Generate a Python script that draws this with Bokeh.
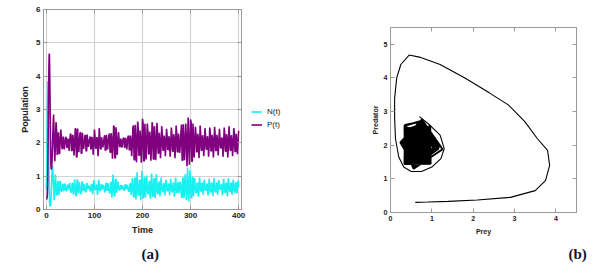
from bokeh.plotting import figure
from bokeh.layouts import row, column
from bokeh.models import Range1d, LinearAxis, Legend, LegendItem, Title, Spacer
from bokeh.embed import file_html
from bokeh.resources import INLINE

# ---- data: initial transient (time, prey N, predator P) ----
t_start = [0.0, 0.5, 1.0, 1.5, 2.0, 2.5, 2.8, 3.1, 3.4, 3.7, 4.0, 4.3, 4.6, 5.0, 5.4,
           5.8, 6.2, 6.6, 7.0, 7.5, 8.0, 8.5, 9.0, 9.5, 10.0, 10.7, 11.4, 12.1, 12.8,
           13.5, 14.2, 15.0]
n_start = [0.60, 0.90, 1.40, 2.10, 2.90, 3.50, 3.75, 3.85, 3.80, 3.55, 3.25, 2.85, 2.40,
           1.80, 1.20, 0.70, 0.45, 0.25, 0.15, 0.10, 0.10, 0.12, 0.20, 0.32, 0.50, 0.75,
           1.00, 1.22, 1.30, 1.20, 0.95, 0.70]
p_start = [0.30, 0.31, 0.33, 0.37, 0.45, 0.65, 0.95, 1.40, 1.85, 2.20, 2.70, 3.20, 3.55,
           4.00, 4.40, 4.62, 4.68, 4.40, 4.00, 3.40, 2.80, 2.20, 1.65, 1.35, 1.22, 1.22,
           1.35, 1.60, 1.90, 2.30, 2.60, 2.85]

# ---- data: sustained oscillation, sampled every 1.25 time units from t = 16.25 ----
osc_t0 = 16.25
osc_step = 1.25
n_osc = [
    0.28, 0.58, 1.05, 0.74, 0.45, 0.43, 0.85, 0.82, 0.44, 0.70, 0.86, 0.60, 0.54, 0.55, 0.76, 0.75,
    0.55, 0.70, 0.78, 0.60, 0.56, 0.57, 0.73, 0.74, 0.60, 0.72, 0.80, 0.56, 0.52, 0.51, 0.78, 0.79,
    0.44, 0.60, 0.90, 0.68, 0.42, 0.41, 0.88, 0.89, 0.50, 0.68, 0.82, 0.58, 0.47, 0.48, 0.82, 0.83,
    0.56, 0.70, 0.76, 0.62, 0.52, 0.53, 0.78, 0.77, 0.62, 0.66, 0.72, 0.64, 0.55, 0.56, 0.76, 0.75,
    0.46, 0.62, 0.88, 0.66, 0.60, 0.59, 0.73, 0.74, 0.44, 0.58, 0.90, 0.72, 0.56, 0.57, 0.74, 0.75,
    0.60, 0.68, 0.74, 0.66, 0.53, 0.52, 0.78, 0.79, 0.56, 0.72, 0.78, 0.58, 0.50, 0.49, 0.82, 0.81,
    0.36, 0.60, 1.05, 0.74, 0.40, 0.41, 0.90, 0.91, 0.50, 0.70, 0.84, 0.62, 0.58, 0.59, 0.73, 0.72,
    0.60, 0.70, 0.72, 0.62, 0.58, 0.57, 0.74, 0.75, 0.62, 0.68, 0.74, 0.60, 0.54, 0.55, 0.78, 0.77,
    0.44, 0.58, 0.94, 0.74, 0.38, 0.37, 0.94, 0.95, 0.30, 0.56, 1.12, 0.72, 0.43, 0.44, 0.88, 0.87,
    0.28, 0.60, 1.16, 0.74, 0.34, 0.35, 0.96, 0.95, 0.36, 0.66, 1.02, 0.64, 0.47, 0.46, 0.84, 0.85,
    0.32, 0.56, 1.08, 0.76, 0.40, 0.39, 0.92, 0.93, 0.34, 0.60, 1.06, 0.72, 0.48, 0.47, 0.82, 0.83,
    0.40, 0.62, 0.96, 0.70, 0.54, 0.53, 0.78, 0.77, 0.42, 0.58, 0.90, 0.72, 0.55, 0.56, 0.77, 0.76,
    0.42, 0.60, 0.92, 0.70, 0.53, 0.52, 0.79, 0.80, 0.38, 0.58, 0.96, 0.74, 0.51, 0.52, 0.81, 0.80,
    0.50, 0.64, 0.84, 0.68, 0.36, 0.37, 0.95, 0.94, 0.34, 0.62, 1.06, 0.74, 0.28, 0.56, 1.26, 0.76,
    0.24, 0.60, 1.18, 0.72, 0.35, 0.34, 0.97, 0.96, 0.40, 0.70, 0.94, 0.62, 0.50, 0.51, 0.80, 0.79,
    0.38, 0.58, 0.96, 0.74, 0.55, 0.54, 0.80, 0.79, 0.44, 0.62, 0.90, 0.70, 0.58, 0.57, 0.77, 0.76,
    0.42, 0.58, 0.92, 0.72, 0.52, 0.53, 0.80, 0.79, 0.40, 0.60, 0.94, 0.70, 0.53, 0.52, 0.79, 0.80,
    0.44, 0.62, 0.88, 0.70, 0.60, 0.61, 0.75, 0.74, 0.42, 0.58, 0.92, 0.72, 0.51, 0.52, 0.80, 0.79,
    0.40, 0.60, 0.94, 0.72, 0.54, 0.53, 0.79, 0.80, 0.44, 0.62, 0.90, 0.70, 0.52, 0.51, 0.80, 0.81,
    0.48, 0.64, 0.86, 0.66,
]
p_osc = [
    2.10, 1.45, 1.90, 2.62, 2.36, 1.64, 1.68, 2.32, 1.95, 1.66, 2.08, 2.40, 2.17, 1.83, 1.82, 2.19,
    1.95, 1.80, 2.05, 2.18, 2.14, 1.86, 1.87, 2.13, 1.90, 1.76, 2.10, 2.28, 2.22, 1.77, 1.76, 2.24,
    2.08, 1.62, 1.92, 2.42, 2.42, 1.58, 1.57, 2.43, 1.92, 1.72, 2.04, 2.30, 2.31, 1.69, 1.68, 2.30,
    1.94, 1.82, 2.00, 2.20, 2.24, 1.76, 1.75, 2.25, 1.98, 1.88, 2.04, 2.12, 2.19, 1.81, 1.82, 2.18,
    2.04, 1.64, 1.96, 2.40, 2.16, 1.84, 1.83, 2.17, 2.08, 1.60, 1.92, 2.44, 2.18, 1.82, 1.81, 2.17,
    2.00, 1.86, 1.98, 2.14, 2.23, 1.77, 1.78, 2.24, 1.92, 1.80, 2.06, 2.22, 2.28, 1.72, 1.71, 2.29,
    2.10, 1.52, 1.90, 2.52, 2.46, 1.54, 1.55, 2.47, 1.94, 1.64, 2.06, 2.32, 2.12, 1.88, 1.89, 2.13,
    1.96, 1.86, 2.04, 2.14, 2.14, 1.86, 1.87, 2.15, 1.94, 1.80, 2.06, 2.20, 2.21, 1.79, 1.78, 2.22,
    2.06, 1.60, 1.92, 2.46, 2.52, 1.50, 1.48, 2.54, 2.08, 1.42, 1.94, 2.64, 2.38, 1.62, 1.63, 2.37,
    2.10, 1.40, 1.90, 2.72, 2.58, 1.46, 1.45, 2.57, 1.98, 1.50, 2.06, 2.58, 2.33, 1.67, 1.66, 2.34,
    2.12, 1.46, 1.88, 2.62, 2.48, 1.52, 1.50, 2.50, 2.08, 1.48, 1.92, 2.60, 2.31, 1.69, 1.68, 2.30,
    2.06, 1.54, 1.94, 2.50, 2.23, 1.77, 1.78, 2.22, 2.08, 1.60, 1.92, 2.42, 2.21, 1.79, 1.80, 2.20,
    2.04, 1.58, 1.94, 2.46, 2.25, 1.75, 1.74, 2.26, 2.10, 1.54, 1.90, 2.52, 2.27, 1.73, 1.72, 2.28,
    2.02, 1.70, 1.96, 2.34, 2.55, 1.48, 1.47, 2.56, 2.10, 1.48, 1.94, 2.58, 2.14, 1.30, 1.88, 2.76,
    2.08, 1.34, 1.96, 2.70, 2.60, 1.44, 1.45, 2.58, 1.94, 1.56, 2.08, 2.48, 2.28, 1.72, 1.73, 2.27,
    2.10, 1.54, 1.90, 2.52, 2.22, 1.78, 1.77, 2.23, 2.04, 1.60, 1.94, 2.44, 2.19, 1.81, 1.80, 2.20,
    2.06, 1.58, 1.94, 2.46, 2.25, 1.75, 1.76, 2.24, 2.08, 1.56, 1.92, 2.48, 2.23, 1.77, 1.76, 2.24,
    2.04, 1.62, 1.96, 2.42, 2.15, 1.85, 1.84, 2.16, 2.08, 1.58, 1.92, 2.46, 2.25, 1.75, 1.74, 2.26,
    2.06, 1.56, 1.94, 2.50, 2.22, 1.78, 1.77, 2.23, 2.02, 1.60, 1.96, 2.44, 2.26, 1.74, 1.73, 2.27,
    2.02, 1.66, 1.98, 2.36,
]
t_osc = [osc_t0 + osc_step * i for i in range(len(n_osc))]

t_all = t_start + t_osc
n_all = n_start + n_osc
p_all = p_start + p_osc

series_names = ["N(t)", "P(t)"]
time_ticks = [0, 100, 200, 300, 400]
pop_ticks = [0, 1, 2, 3, 4, 5, 6]
prey_ticks = [0, 1, 2, 3, 4]
pred_ticks = [0, 1, 2, 3, 4, 5]

FONT = "Liberation Sans"
FRAME = "#9a9a9a"
CYAN = "#19f0f0"
PURPLE = "#800080"
TXT = "#222222"


def tick_style(ax):
    ax.axis_line_color = FRAME
    ax.major_tick_line_color = FRAME
    ax.minor_tick_line_color = FRAME
    ax.major_tick_in = 4
    ax.major_tick_out = 0
    ax.minor_tick_in = 2
    ax.minor_tick_out = 0


def style_axes(p, xticks, yticks, tick_size, xlabel, ylabel, label_size, xstand, ystand):
    for ax in p.xaxis + p.yaxis:
        tick_style(ax)
        ax.major_label_text_font = FONT
        ax.major_label_text_font_style = "bold"
        ax.major_label_text_font_size = tick_size
        ax.major_label_text_color = TXT
        ax.major_label_standoff = 3
        ax.axis_label_text_font = FONT
        ax.axis_label_text_font_style = "bold"
        ax.axis_label_text_font_size = label_size
        ax.axis_label_text_color = TXT
    p.xaxis.ticker = xticks
    p.yaxis.ticker = yticks
    p.xaxis.axis_label = xlabel
    p.yaxis.axis_label = ylabel
    p.xaxis.axis_label_standoff = xstand
    p.yaxis.axis_label_standoff = ystand
    # mirrored frame ticks on top and right (labels hidden)
    top = LinearAxis(ticker=xticks, major_label_overrides={v: "" for v in xticks})
    right = LinearAxis(ticker=yticks, major_label_overrides={v: "" for v in yticks})
    for ax in (top, right):
        tick_style(ax)
        ax.major_label_text_font_size = "1px"
        ax.major_label_standoff = 0
    p.add_layout(top, "above")
    p.add_layout(right, "right")
    p.outline_line_color = FRAME
    p.background_fill_color = "white"
    p.border_fill_color = "white"


def panel_tag(text, offset):
    return Title(text=text, align="left", offset=offset, standoff=12,
                 padding=(6, 0, 0, 0),
                 text_font="Liberation Serif", text_font_style="bold",
                 text_font_size="15px", text_color="#141428")


# ---------------- panel (a): time series ----------------
p1 = figure(width=246, height=268, x_range=Range1d(-6, 406), y_range=Range1d(0, 6),
            output_backend="svg", toolbar_location=None,
            min_border_left=43, min_border_right=5, min_border_top=9, min_border_bottom=59)
style_axes(p1, time_ticks, pop_ticks, "8px", "Time", "Population", "9px", 4, 3)
p1.grid.grid_line_color = "#d2d2d2"
p1.grid.grid_line_width = 1.2
p1.line(t_all, n_all, line_color=CYAN, line_width=1.6)
p1.line(t_all, p_all, line_color=PURPLE, line_width=1.6)
p1.add_layout(panel_tag("(a)", 92), "below")

# legend strip beside panel (a), keyed to the same two series
p_leg = figure(width=58, height=268, x_range=Range1d(-6, 406), y_range=Range1d(0, 6),
               output_backend="svg", toolbar_location=None,
               x_axis_location=None, y_axis_location=None, outline_line_color=None,
               min_border_left=0, min_border_right=0, min_border_top=9, min_border_bottom=59)
p_leg.grid.grid_line_color = None
ln = p_leg.line(t_all, n_all, line_color=CYAN, line_width=1.6, visible=False)
lp = p_leg.line(t_all, p_all, line_color=PURPLE, line_width=1.6, visible=False)
legend = Legend(items=[LegendItem(label=series_names[0], renderers=[ln]),
                       LegendItem(label=series_names[1], renderers=[lp])],
                location=(5, 78), margin=0, padding=0, spacing=0,
                glyph_width=11, glyph_height=13, label_standoff=5,
                label_text_font=FONT, label_text_font_size="8px",
                label_text_color=TXT, inactive_fill_alpha=0,
                border_line_color=None, background_fill_alpha=0)
p_leg.add_layout(legend)

# ---------------- panel (b): phase portrait ----------------
p2 = figure(width=306, height=253, x_range=Range1d(0, 4.5), y_range=Range1d(0, 5.5),
            output_backend="svg", toolbar_location=None,
            min_border_left=86, min_border_right=34, min_border_top=9, min_border_bottom=59)
style_axes(p2, prey_ticks, pred_ticks, "7px", "Prey", "Predator", "7px", 4, 2)
p2.grid.grid_line_color = None
p2.line(n_start, p_start, line_color="black", line_width=1.1)
p2.line(n_osc, p_osc, line_color="black", line_width=2.0)
p2.add_layout(panel_tag("(b)", 172), "below")

layout = row(p1, p_leg, column(Spacer(width=306, height=18), p2))
open("out.html", "w").write(file_html(layout, INLINE))
